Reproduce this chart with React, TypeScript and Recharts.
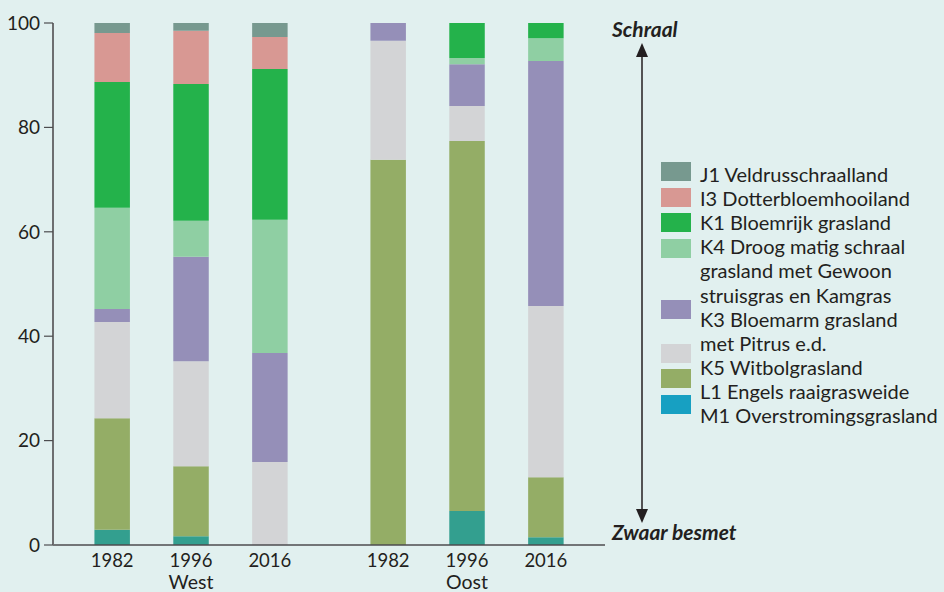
import React from "react";
import { Bar, BarChart, XAxis, YAxis } from "recharts";

// categories
const years = ["1982", "1996", "2016", "1982", "1996", "2016"];
const regions = ["West", "West", "West", "Oost", "Oost", "Oost"];

// series values (% of area), bottom to top of the stack
const M1 = [2.9, 1.7, 0, 0, 6.5, 1.5];
const L1 = [21.4, 13.4, 0, 73.8, 70.9, 11.5];
const K5 = [18.4, 20.1, 15.9, 22.8, 6.7, 32.8];
const K3 = [2.5, 20.0, 20.9, 3.4, 8.0, 46.9];
const K4 = [19.4, 6.9, 25.5, 0, 1.2, 4.4];
const K1 = [24.1, 26.2, 28.9, 0, 6.7, 2.9];
const I3 = [9.4, 10.2, 6.1, 0, 0, 0];
const J1 = [1.9, 1.5, 2.7, 0, 0, 0];

const yTicks = [0, 20, 40, 60, 80, 100];

const series = [
  { key: "M1", values: M1, fill: "#339f8f" },
  { key: "L1", values: L1, fill: "#94ad66" },
  { key: "K5", values: K5, fill: "#d3d4d6" },
  { key: "K3", values: K3, fill: "#958fb8" },
  { key: "K4", values: K4, fill: "#8fcfa3" },
  { key: "K1", values: K1, fill: "#24b24b" },
  { key: "I3", values: I3, fill: "#d89893" },
  { key: "J1", values: J1, fill: "#77998f" },
];

const legendLines = [
  "J1 Veldrusschraalland",
  "I3 Dotterbloemhooiland",
  "K1 Bloemrijk grasland",
  "K4 Droog matig schraal",
  "grasland met Gewoon",
  "struisgras en Kamgras",
  "K3 Bloemarm grasland",
  "met Pitrus e.d.",
  "K5 Witbolgrasland",
  "L1 Engels raaigrasweide",
  "M1 Overstromingsgrasland",
];
const legendSwatches = [
  { fill: "#77998f", top: 162 },
  { fill: "#d89893", top: 188 },
  { fill: "#24b24b", top: 213 },
  { fill: "#8fcfa3", top: 239 },
  { fill: "#958fb8", top: 300 },
  { fill: "#d3d4d6", top: 344 },
  { fill: "#94ad66", top: 369 },
  { fill: "#17a0c2", top: 395 },
];

// 14 slots along the x axis, bars in some of them (gap between West and Oost)
const SLOTS = 14;
const barSlots = [1, 3, 5, 8, 10, 12];

const rows = Array.from({ length: SLOTS }, (_, s) => {
  const i = barSlots.indexOf(s);
  const row: Record<string, any> = { key: `s${s}`, idx: i };
  series.forEach((se) => {
    row[se.key] = i >= 0 ? se.values[i] : null;
  });
  return row;
});

const FONT = "Lato, 'Open Sans', sans-serif";
const INK = "#231f20";

function YearTick(props: any) {
  const { x, payload } = props;
  const s = Number(String(payload.value).slice(1));
  const i = barSlots.indexOf(s);
  if (i < 0) return null;
  const middle = i === 1 || i === 4;
  return (
    <g>
      <text x={x} y={567} textAnchor="middle" fill={INK} fontSize={18.5} fontFamily={FONT}>
        {years[i]}
      </text>
      {middle && (
        <text x={x} y={589} textAnchor="middle" fill={INK} fontSize={19.5} fontFamily={FONT}>
          {regions[i]}
        </text>
      )}
    </g>
  );
}

export default function App() {
  return (
    <div
      style={{
        position: "absolute",
        left: 0,
        top: 0,
        width: 944,
        height: 592,
        background: "#e1f0ef",
        overflow: "hidden",
      }}
    >
      <BarChart
        width={944}
        height={592}
        data={rows}
        margin={{ top: 23, right: 339, bottom: 0, left: 0 }}
        barCategoryGap={0}
      >
        <XAxis
          xAxisId="b"
          dataKey="key"
          interval={0}
          tickLine={false}
          height={47}
          axisLine={{ stroke: "#4d4d4f", strokeWidth: 1.5 }}
          tick={<YearTick />}
        />
        <XAxis
          xAxisId="t"
          orientation="top"
          dataKey="key"
          height={0}
          tick={false}
          tickLine={false}
          axisLine={{ stroke: "#4d4d4f", strokeWidth: 1.5 }}
        />
        <YAxis
          yAxisId="l"
          domain={[0, 100]}
          ticks={yTicks}
          width={53}
          tickSize={9}
          tickMargin={4}
          axisLine={{ stroke: "#6d6e70", strokeWidth: 2 }}
          tickLine={{ stroke: "#4d4d4f", strokeWidth: 1.2 }}
          tick={{ fill: INK, fontSize: 19, fontFamily: FONT }}
        />
        <YAxis
          yAxisId="r"
          orientation="right"
          domain={[0, 100]}
          width={0}
          tick={false}
          tickLine={false}
          axisLine={{ stroke: "#4d4d4f", strokeWidth: 1.5 }}
        />
        {series.map((se) => (
          <Bar
            key={se.key}
            xAxisId="b"
            yAxisId="l"
            stackId="a"
            dataKey={se.key}
            fill={se.fill}
            barSize={44}
            isAnimationActive={false}
          />
        ))}
      </BarChart>

      <svg
        width={944}
        height={592}
        style={{ position: "absolute", left: 0, top: 0, pointerEvents: "none" }}
      >
        {/* arrow between Schraal and Zwaar besmet */}
        <line x1={642} y1={55} x2={642} y2={511} stroke={INK} strokeWidth={1.5} />
        <polygon points="642,43 636,57 648,57" fill={INK} />
        <polygon points="642,523 636,509 648,509" fill={INK} />
        <text x={612} y={37} fill={INK} fontSize={21} fontWeight={700} fontStyle="italic" fontFamily={FONT}>
          Schraal
        </text>
        <text x={612} y={540} fill={INK} fontSize={21} fontWeight={700} fontStyle="italic" fontFamily={FONT}>
          Zwaar besmet
        </text>

        {/* legend */}
        {legendSwatches.map((sw, i) => (
          <rect key={i} x={661} y={sw.top} width={30} height={19} fill={sw.fill} />
        ))}
        {legendLines.map((t, i) => (
          <text
            key={i}
            x={700}
            y={182 + i * 24.1}
            fill={INK}
            fontSize={20}
            fontFamily={FONT}
          >
            {t}
          </text>
        ))}
      </svg>
    </div>
  );
}
